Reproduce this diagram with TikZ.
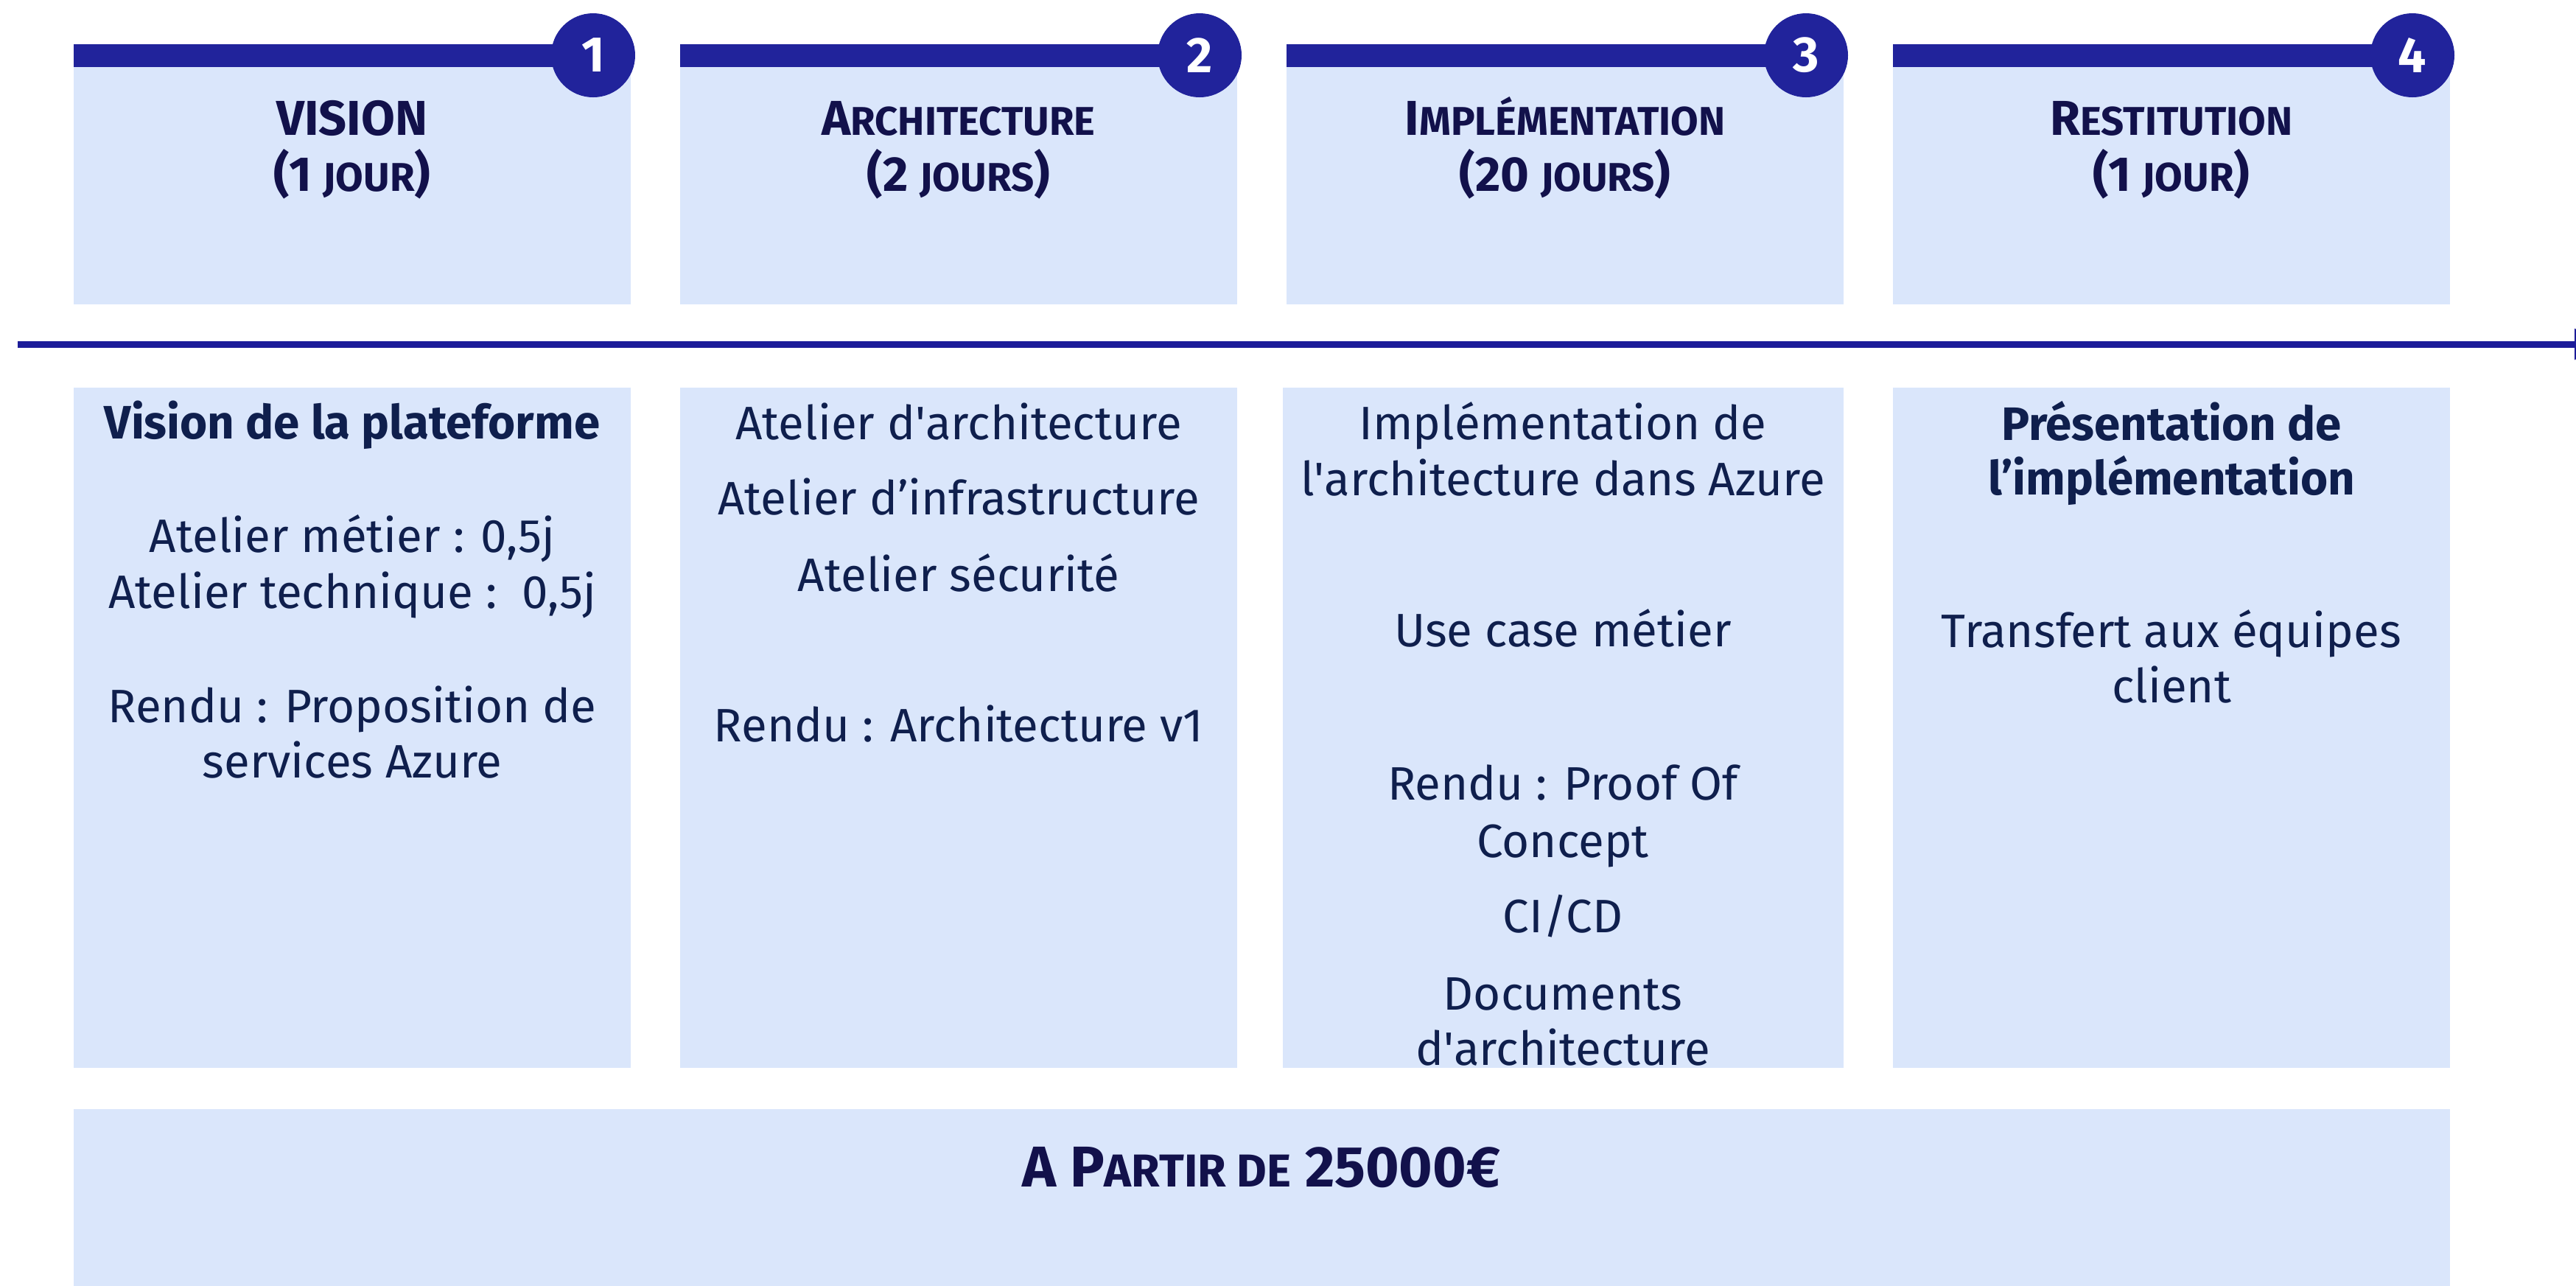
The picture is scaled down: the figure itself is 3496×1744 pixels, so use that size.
\documentclass[tikz,border=0pt]{standalone}
\usepackage{fontspec}
\setmainfont{Fira Sans}
\usetikzlibrary{arrows.meta}

\definecolor{barblue}{RGB}{33,35,155}
\definecolor{lineblue}{RGB}{28,28,153}
\definecolor{boxfill}{RGB}{218,230,251}
\definecolor{headtext}{RGB}{18,17,75}
\definecolor{bodytext}{RGB}{15,31,77}

% fake small capitals
\newcommand\petit[2][15.5]{{\fontsize{#1}{#1}\selectfont #2}}

\tikzset{
  bodytxt/.style={anchor=base, inner sep=0, text=bodytext, font=\fontsize{18.1}{21.6}\selectfont},
  bodybold/.style={bodytxt, font=\fontsize{18.1}{21.6}\selectfont\bfseries},
  headtxt/.style={anchor=base, inner sep=0, text=headtext, font=\fontsize{18.9}{22}\selectfont\bfseries},
  numtxt/.style={inner sep=0, text=white, font=\fontsize{19.3}{22}\selectfont\bfseries},
}

\begin{document}
\begin{tikzpicture}[x=0.01cm, y=-0.01cm]
\useasboundingbox (0,0) rectangle (3496,1744);

%%%% Header boxes with their numbers:
\foreach \i/\x in {1/100, 2/923, 3/1746, 4/2569} {
  \fill[boxfill] (\x,60) rectangle (\x+756,413);
  \fill[barblue] (\x,60) rectangle (\x+756,91);
  \fill[barblue] (\x+705,75) circle (57);
  \node[numtxt] (num\i) at (\x+705,75) {\i};
}

%%%% Header titles
\node[headtxt] (titre1) at (478,183) {VISION};
\node[headtxt] (duree1) at (478,259) {(1 \petit{JOUR})};
\node[headtxt] (titre2) at (1301,183) {A\petit{RCHITECTURE}};
\node[headtxt] (duree2) at (1301,259) {(2 \petit{JOURS})};
\node[headtxt] (titre3) at (2124,183) {I\petit{MPLÉMENTATION}};
\node[headtxt] (duree3) at (2124,259) {(20 \petit{JOURS})};
\node[headtxt] (titre4) at (2947,183) {R\petit{ESTITUTION}};
\node[headtxt] (duree4) at (2947,259) {(1 \petit{JOUR})};

%%%% Timeline
\coordinate (tdebut) at (24,467);
\coordinate (tfin) at (3536,467);
\draw[lineblue, line width=0.09cm, -{Triangle[length=0.42cm, width=0.4cm]}] (tdebut) -- (tfin);

%%%% Body boxes
\fill[boxfill] (100,526) rectangle (856,1449);
\fill[boxfill] (923,526) rectangle (1679,1449);
\fill[boxfill] (1741,526) rectangle (2502,1449);
\fill[boxfill] (2569,526) rectangle (3325,1449);

%%%% Vision
\node[bodybold] (vis1) at (478,595) {Vision de la plateforme};
\node[bodytxt] (vis2) at (478,749) {Atelier métier : 0,5j};
\node[bodytxt] (vis3) at (478,825) {Atelier technique :\ \ 0,5j};
\node[bodytxt] (vis4) at (478,980) {Rendu : Proposition de};
\node[bodytxt] (vis5) at (478,1055) {services Azure};

%%%% Architecture
\node[bodytxt] (arc1) at (1301,596) {Atelier d\textquotesingle architecture};
\node[bodytxt] (arc2) at (1301,698) {Atelier d’infrastructure};
\node[bodytxt] (arc3) at (1301,802) {Atelier sécurité};
\node[bodytxt] (arc4) at (1301,1006) {Rendu : Architecture v1};

%%%% Implementation
\node[bodytxt] (imp1) at (2121,596) {Implémentation de};
\node[bodytxt] (imp2) at (2121,672) {l\textquotesingle architecture dans Azure};
\node[bodytxt] (imp3) at (2121,877) {Use case métier};
\node[bodytxt] (imp4) at (2121,1085) {Rendu : Proof Of};
\node[bodytxt] (imp5) at (2121,1163) {Concept};
\node[bodytxt] (imp6) at (2121,1265) {CI/CD};
\node[bodytxt] (imp7) at (2121,1370) {Documents};
\node[bodytxt] (imp8) at (2121,1445) {d\textquotesingle architecture};

%%%% Restitution
\node[bodybold] (res1) at (2947,597) {Présentation de};
\node[bodybold] (res2) at (2947,671) {l’implémentation};
\node[bodytxt] (res3) at (2947,878) {Transfert aux équipes};
\node[bodytxt] (res4) at (2947,953) {client};

%%%% Price
\fill[boxfill] (100,1505) rectangle (3325,1760);
\node[headtxt, font=\fontsize{22.2}{26}\selectfont\bfseries] (prix) at (1712,1610) {A P\petit[17.8]{ARTIR DE} 25000€};
\end{tikzpicture}
\end{document}
